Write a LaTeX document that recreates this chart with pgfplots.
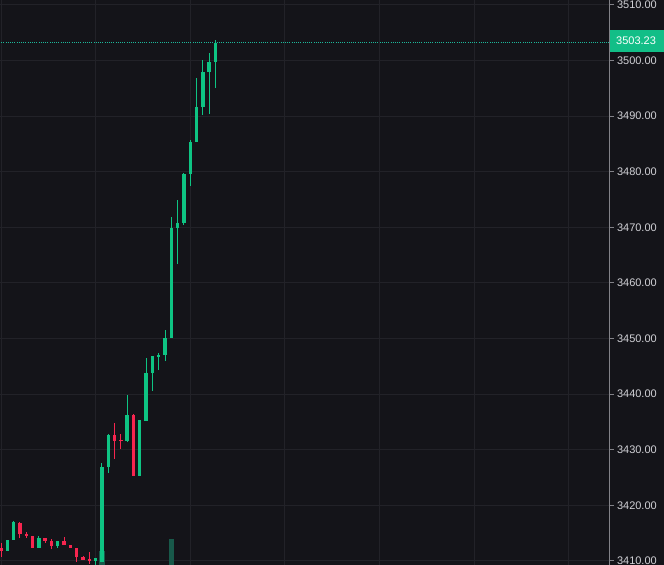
\documentclass[border=0pt]{standalone}
\usepackage{fontspec}
\setmainfont{Liberation Sans}
\usepackage{pgfplots}
\usepackage{pgfplotstable}
\pgfplotsset{compat=1.18}
\definecolor{bg}{HTML}{141419}
\definecolor{gridc}{HTML}{222228}
\definecolor{axc}{HTML}{828288}
\definecolor{lab}{HTML}{D1D1D6}
\definecolor{upc}{HTML}{0EC483}
\definecolor{dnc}{HTML}{F7254F}
\definecolor{volc}{HTML}{18594A}
\definecolor{boxc}{HTML}{12BE87}
\definecolor{linec}{HTML}{1DB89A}

% x o h l c
\pgfplotstableread{
x o h l c
1 3411.85 3413.81 3411.85 3413.81
2 3413.83 3417.14 3413.83 3416.96
6 3412.39 3414.44 3412.39 3414.14
9 3412.75 3413.65 3412.39 3413.65
15 3410.05 3410.54 3408.90 3410.54
16 3409.77 3427.68 3409.77 3426.96
17 3426.96 3432.90 3425.88 3432.66
20 3431.58 3439.86 3431.40 3436.26
22 3425.34 3435.41 3425.34 3435.31
23 3435.18 3446.51 3435.18 3443.81
24 3443.81 3446.87 3440.58 3446.87
25 3446.69 3447.41 3444.35 3447.05
26 3447.05 3451.55 3445.97 3450.11
27 3450.11 3471.87 3450.11 3469.89
28 3469.89 3474.93 3463.42 3470.79
29 3470.79 3479.78 3470.43 3479.60
30 3479.60 3485.72 3477.44 3485.36
31 3485.36 3496.87 3485.36 3491.65
32 3491.65 3500.11 3490.22 3497.95
33 3497.95 3501.37 3490.40 3499.75
34 3499.75 3503.71 3495.07 3503.23
}\up
\pgfplotstableread{
x o h l c
0 3412.25 3413.24 3410.77 3411.83
3 3416.78 3417.07 3414.08 3414.80
4 3414.91 3415.22 3414.14 3414.55
5 3414.50 3414.50 3412.39 3412.39
7 3414.14 3414.14 3413.29 3413.60
8 3413.65 3413.90 3412.10 3412.70
10 3413.60 3414.32 3412.88 3412.88
11 3412.88 3412.88 3412.34 3412.34
12 3412.28 3412.28 3409.87 3410.67
13 3410.67 3410.85 3410.23 3410.23
14 3410.36 3411.62 3409.51 3410.00
18 3432.66 3434.82 3428.35 3431.64
19 3431.76 3432.84 3430.20 3431.58
21 3436.31 3436.44 3425.34 3425.34
}\down
\pgfplotstableread{
x v
16 3411.80
27 3413.96
}\vol

\begin{document}
\begin{tikzpicture}[font=\fontsize{11bp}{13bp}\selectfont]
\useasboundingbox (0,0) rectangle (664bp,565bp);
\clip (0,0) rectangle (664bp,565bp);
\fill[bg] (0,0) rectangle (664bp,565bp);
\begin{axis}[at={(0,0)},anchor=south west,scale only axis,width=609.5bp,height=565bp,
 xmin=-0.159,xmax=96.47,ymin=3409.28,ymax=3510.9,
 axis x line*=bottom,axis y line*=right,
 x axis line style={draw=none},y axis line style={draw=axc,line width=1bp},
 xtick={0,15,...,90},xticklabels={},xtick style={draw=none},
 ytick={3410,3420,...,3510},ytick style={draw=axc,line width=1bp},
 major tick length=4bp,tick align=outside,
 grid=major,major grid style={draw=gridc,line width=1bp},
 scaled y ticks=false,
 /pgf/number format/assume math mode=true,
 yticklabel style={text=lab,anchor=west,/pgf/number format/.cd,fixed,fixed zerofill,precision=2,1000 sep={}},
 clip mode=individual,
 wick/.style={draw=none,mark=none,forget plot,error bars/.cd,y dir=plus,y explicit,error mark=none,
   error bar style={line width=1bp,draw=#1}},
 body/.style={draw=none,mark=none,forget plot,error bars/.cd,y dir=plus,y explicit,error mark=none,
   error bar style={line width=3.4bp,draw=#1}}]
% volumen
\addplot[draw=none,mark=none,forget plot,error bars/.cd,y dir=plus,y explicit,error mark=none,
   error bar style={line width=5.3bp,draw=volc}] table[x=x,y expr=3408.5,y error plus expr=\thisrow{v}-3408.5] {\vol};
% mechas
\addplot[wick=upc] table[x=x,y=l,y error plus expr=\thisrow{h}-\thisrow{l}] {\up};
\addplot[wick=dnc] table[x=x,y=l,y error plus expr=\thisrow{h}-\thisrow{l}] {\down};
% cuerpos
\addplot[body=upc] table[x=x,y=o,y error plus expr=\thisrow{c}-\thisrow{o}] {\up};
\addplot[body=dnc] table[x=x,y=c,y error plus expr=\thisrow{o}-\thisrow{c}] {\down};
% linea de precio
\addplot[linec,line width=0.8bp,dash pattern=on 1bp off 1.2bp,forget plot] coordinates {(-1,3503.23)(97,3503.23)};
\node[fill=boxc,text=white,anchor=west,inner xsep=6.5bp,inner ysep=0pt,text width=41.5bp,minimum height=22bp,align=left]
  at (axis cs:96.47,3503.5) {3503.23};
\end{axis}
\end{tikzpicture}
\end{document}
